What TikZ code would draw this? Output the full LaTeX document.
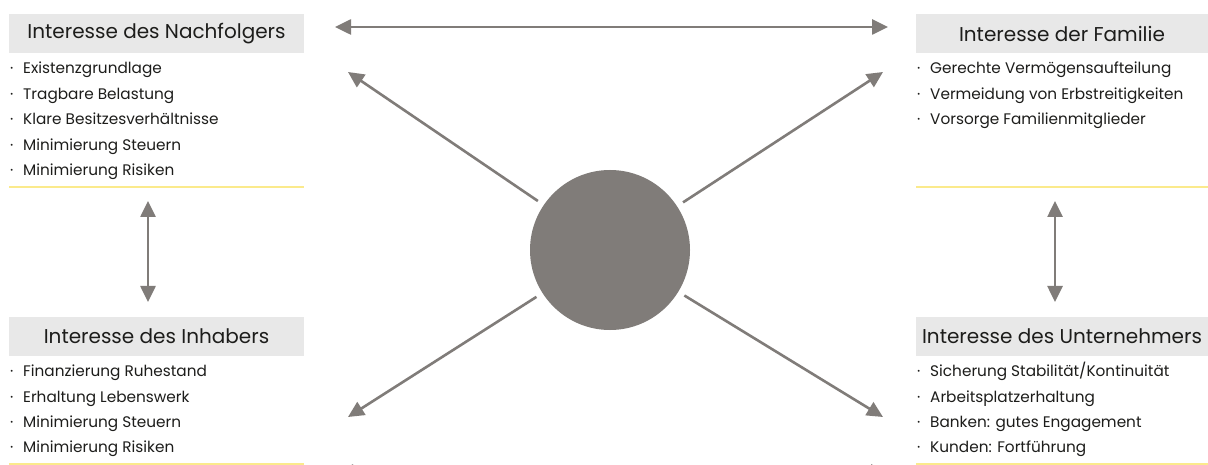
\documentclass[tikz,border=0pt]{standalone}
\usepackage{fontspec}
\setmainfont{Poppins}
\usetikzlibrary{arrows.meta}
\definecolor{arrowgray}{RGB}{128,124,121}
\definecolor{headbg}{RGB}{232,232,232}
\definecolor{lineyellow}{RGB}{251,234,140}
\definecolor{txt}{RGB}{29,29,27}
\tikzset{
  headbox/.style={fill=headbg, inner sep=0pt, minimum height=39pt, text=txt, font=\fontsize{20}{22}\selectfont},
  item/.style={anchor=base west, inner sep=0pt, text=txt, font=\fontsize{15.3}{17}\selectfont},
  conn/.style={draw=arrowgray, line width=2.6pt, {Triangle[length=16pt,width=15pt]}-{Triangle[length=16pt,width=15pt]}},
  ray/.style={draw=arrowgray, line width=2.6pt, -{Triangle[length=16pt,width=15pt]}, shorten <=7pt},
  sep/.style={draw=lineyellow, line width=2pt}
}
\newcommand{\itm}[1]{\makebox[14pt][l]{\hspace{1pt}·}#1}
\begin{document}
\begin{tikzpicture}[x=1pt,y=-1pt]
\clip (0,0) rectangle (1208,465);
\fill[white] (0,0) rectangle (1208,465);
% headers
\node[headbox, minimum width=295pt] (hTL) at (156.5,33.5) {Interesse des Nachfolgers};
\node[headbox, minimum width=292pt] (hTR) at (1062,33.5) {Interesse der Familie};
\node[headbox, minimum width=295pt] (hBL) at (156.5,336) {Interesse des Inhabers};
\node[headbox, minimum width=292pt] (hBR) at (1062,336) {Interesse des Unternehmers};
% items TL
\node[item] (tl1) at (9,74) {\itm{Existenzgrundlage}};
\node[item] (tl2) at (9,100) {\itm{Tragbare Belastung}};
\node[item] (tl3) at (9,125) {\itm{Klare Besitzesverhältnisse}};
\node[item] (tl4) at (9,151) {\itm{Minimierung Steuern}};
\node[item] (tl5) at (9,176) {\itm{Minimierung Risiken}};
% items TR
\node[item] (tr1) at (916,74) {\itm{Gerechte Vermögensaufteilung}};
\node[item] (tr2) at (916,100) {\itm{Vermeidung von Erbstreitigkeiten}};
\node[item] (tr3) at (916,125) {\itm{Vorsorge Familienmitglieder}};
% items BL
\node[item] (bl1) at (9,376) {\itm{Finanzierung Ruhestand}};
\node[item] (bl2) at (9,402) {\itm{Erhaltung Lebenswerk}};
\node[item] (bl3) at (9,427) {\itm{Minimierung Steuern}};
\node[item] (bl4) at (9,452) {\itm{Minimierung Risiken}};
% items BR
\node[item] (br1) at (916,376) {\itm{Sicherung Stabilität/Kontinuität}};
\node[item] (br2) at (916,402) {\itm{Arbeitsplatzerhaltung}};
\node[item] (br3) at (916,427) {\itm{Banken: gutes Engagement}};
\node[item] (br4) at (916,452) {\itm{Kunden: Fortführung}};
% separators
\coordinate (sTLa) at (9,187); \coordinate (sTLb) at (304,187);
\coordinate (sTRa) at (916,187); \coordinate (sTRb) at (1208,187);
\coordinate (sBLa) at (9,464); \coordinate (sBLb) at (304,464);
\coordinate (sBRa) at (916,464); \coordinate (sBRb) at (1208,464);
\draw[sep] (sTLa) -- (sTLb);
\draw[sep] (sTRa) -- (sTRb);
\draw[sep] (sBLa) -- (sBLb);
\draw[sep] (sBRa) -- (sBRb);
% center circle
\node[circle, fill=arrowgray, minimum size=160pt, inner sep=0pt] (c) at (610,250) {};
% ray end points
\coordinate (eTL) at (348,72);
\coordinate (eTR) at (883,72);
\coordinate (eBL) at (348,417);
\coordinate (eBR) at (883,417);
\draw[ray] (c) -- (eTL);
\draw[ray] (c) -- (eTR);
\draw[ray] (c) -- (eBL);
\draw[ray] (c) -- (eBR);
% horizontal connectors
\coordinate (topL) at (335,27); \coordinate (topR) at (888,27);
\coordinate (botL) at (337,472); \coordinate (botR) at (887,472);
\draw[conn] (topL) -- (topR);
\draw[conn] (botL) -- (botR);
% vertical connectors
\coordinate (vLa) at (148,201); \coordinate (vLb) at (148,302);
\coordinate (vRa) at (1055,201); \coordinate (vRb) at (1055,302);
\draw[conn] (vLa) -- (vLb);
\draw[conn] (vRa) -- (vRb);
\end{tikzpicture}
\end{document}
